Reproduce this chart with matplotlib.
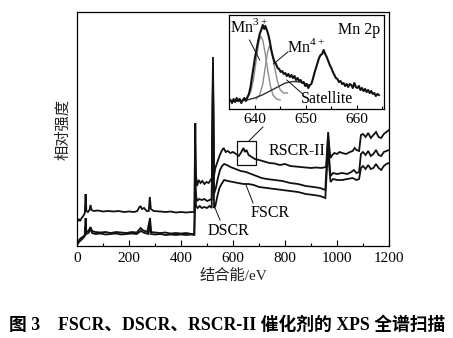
import matplotlib
matplotlib.use("Agg")
import matplotlib.pyplot as plt
from matplotlib.patches import Rectangle
from matplotlib.ticker import MultipleLocator

plt.rcParams['font.family'] = ['Liberation Serif', 'Noto Sans CJK SC']
plt.rcParams['mathtext.fontset'] = 'custom'
plt.rcParams['mathtext.rm'] = 'Liberation Serif'

# ---- survey spectra (binding energy / eV, relative intensity) ----
rscr_e = [0, 6, 12, 18, 24, 30, 33, 36, 42, 48, 52, 56, 65, 80, 100, 120, 140, 160, 180, 200,
          220, 232, 238, 244, 250, 258, 268, 276, 280, 284, 295, 320, 340, 360, 380, 400, 420,
          440, 451, 455, 458, 462, 468, 475, 482, 490, 498, 506, 514, 519, 523, 527, 532, 540,
          548, 556, 564, 572, 580, 590, 600, 612, 622, 630, 640, 646, 652, 660, 672, 684, 700,
          720, 740, 760, 780, 800, 820, 840, 860, 880, 900, 920, 940, 958, 966, 970, 975, 982,
          990, 1000, 1010, 1020, 1035, 1050, 1060, 1068, 1075, 1085, 1092, 1100, 1110, 1120,
          1130, 1140, 1150, 1160, 1170, 1180, 1190, 1200]
rscr_i = [24, 27, 25, 28, 30, 33, 52, 35, 34, 36, 41, 36, 35, 35.5, 34.5, 35, 34.5, 35, 34, 34.5,
          34, 35, 38, 40, 37, 38, 35, 35, 49, 37, 35, 34.5, 34, 34.5, 33.5, 34, 33.5,
          34, 34, 123, 70, 60, 66, 63, 65, 62, 64, 63, 66, 68, 189, 70, 78, 84,
          90, 95, 98, 94, 95, 93, 94, 92, 90, 93, 98, 94, 96, 91, 89, 87, 86,
          84.5, 83, 82.5, 81, 82, 80, 79.5, 79, 78.5, 78, 78.5, 78, 79, 114, 100, 88, 91,
          93, 92, 94, 93, 92, 94, 95, 98, 96, 95, 111, 112, 109, 113,
          108, 111, 114, 109, 108, 112, 114, 116]

fscr_e = [0, 8, 15, 22, 30, 33, 36, 44, 52, 58, 70, 90, 110, 130, 150, 170, 190, 210, 230, 238,
          245, 252, 270, 281, 285, 300, 320, 340, 360, 380, 400, 420, 440, 451, 455, 458, 462,
          470, 480, 490, 500, 510, 518, 523, 527, 534, 542, 550, 558, 566, 576, 590, 610, 630,
          650, 670, 690, 710, 730, 760, 790, 820, 850, 880, 910, 935, 955, 966, 970, 975, 985,
          1000, 1020, 1040, 1055, 1065, 1075, 1085, 1092, 1100, 1110, 1120, 1130, 1140, 1150,
          1160, 1170, 1180, 1190, 1200]
fscr_i = [3, 6, 8, 9, 11, 28, 14, 15, 19, 15, 14, 13.5, 14, 13, 14, 13.5, 13, 14, 13.5, 16,
          18, 16, 14, 28, 14, 13.5, 13, 13.5, 12.5, 13, 12.5, 13, 12, 12, 70, 50, 45,
          47, 46, 47, 45, 46, 47, 180, 52, 58, 68, 76, 80, 82, 81, 79, 77, 75,
          74, 72, 70, 68, 67, 66, 65, 63, 62, 60, 59, 58, 56, 110, 88, 70, 73,
          72, 73, 72, 74, 76, 73, 74, 92, 94, 91, 95, 90, 92, 96,
          91, 90, 94, 95, 96]

dscr_e = [0, 8, 16, 24, 30, 33, 36, 44, 52, 58, 70, 90, 110, 130, 150, 170, 190, 210, 230, 245,
          260, 275, 281, 285, 300, 320, 340, 360, 380, 400, 420, 440, 451, 455, 458, 464, 472,
          480, 490, 500, 510, 518, 523, 527, 532, 540, 548, 556, 566, 580, 600, 620, 640, 660,
          680, 700, 730, 760, 790, 820, 850, 880, 910, 935, 955, 966, 970, 975, 985, 1000, 1020,
          1040, 1060, 1075, 1085, 1092, 1100, 1110, 1120, 1130, 1140, 1150, 1160, 1170, 1180,
          1190, 1200]
dscr_i = [1, 4, 6, 8, 10, 20, 12, 13, 17, 13, 12, 12.5, 11.5, 12, 12.5, 11.5, 12, 12.5, 12, 15,
          13, 12, 22, 12, 11.5, 12, 11, 11.5, 11, 11.5, 11, 11.5, 11, 55, 40, 38, 40,
          38, 39, 38, 40, 38, 170, 38, 40, 50, 58, 62, 66, 65, 64, 63, 62, 62,
          61, 59, 58, 57, 56, 55, 54, 52, 51, 50, 48, 100, 80, 64, 67, 66, 66,
          67, 68, 66, 67, 78, 80, 77, 81, 77, 78, 82, 78, 76, 80,
          82, 83]

# ---- Mn 2p high-resolution spectrum and fitted components ----
mn_e = [635.3, 635.6, 635.9, 636.2, 636.5, 636.8, 637.1, 637.4, 637.7, 638.0, 638.3, 638.6,
        638.9, 639.2, 639.5, 639.8, 640.1, 640.4, 640.7, 641.0, 641.3, 641.6, 641.9, 642.1,
        642.4, 642.7, 643.0, 643.3, 643.6, 643.9, 644.2, 644.5, 644.8, 645.1, 645.4, 645.7,
        646.0, 646.3, 646.6, 646.9, 647.2, 647.5, 647.8, 648.1, 648.4, 648.7, 649.0, 649.3,
        649.6, 649.9, 650.2, 650.5, 650.8, 651.1, 651.4, 651.7, 652.0, 652.3, 652.6, 652.9,
        653.2, 653.5, 653.8, 654.1, 654.4, 654.7, 655.0, 655.3, 655.6, 655.9, 656.2, 656.5,
        656.8, 657.1, 657.4, 657.7, 658.0, 658.3, 658.6, 658.9, 659.2, 659.5, 659.8, 660.1,
        660.4, 660.7, 661.0, 661.3, 661.6, 661.9, 662.2, 662.5, 662.8, 663.1, 663.4, 663.7,
        664.0, 664.3]
mn_i = [9, 6, 10, 7, 11, 8, 10, 6, 9, 11, 8, 12,
        15, 22, 32, 42, 52, 60, 68, 75, 79, 84, 80, 83,
        79, 74, 67, 58, 52, 47, 45, 41, 40, 37, 38, 35,
        36, 33, 35, 32, 34, 31, 33, 29, 31, 28, 29, 26,
        27, 23, 25, 21, 24, 25, 30, 36, 41, 46, 51, 54,
        55, 59, 55, 52, 48, 44, 41, 37, 34, 31, 30, 27,
        28, 25, 26, 23, 25, 22, 25, 24, 21, 26, 22, 21,
        23, 19, 21, 18, 20, 17, 19, 16, 18, 15, 16, 13,
        15, 14]

mn3_e = [637.8, 638.6, 639.3, 639.8, 640.3, 640.8, 641.2, 641.6, 642.1, 642.6, 643.1, 643.6,
         644.3, 645.0]
mn3_i = [9, 11, 18, 30, 48, 66, 73, 69, 55, 38, 23, 14, 10, 9]

mn4_e = [640.3, 641.0, 641.6, 642.1, 642.5, 642.9, 643.3, 643.8, 644.4, 645.0, 645.7, 646.4]
mn4_i = [10, 14, 25, 42, 56, 63, 59, 45, 29, 19, 16, 16]

sat_e = [636.0, 637.0, 638.5, 640.0, 641.5, 643.0, 644.5, 646.0, 647.5, 649.0, 650.0, 650.6]
sat_i = [8, 8, 9, 11, 14, 18, 22, 26, 27.5, 27, 25, 24]

x_ticks = [0, 200, 400, 600, 800, 1000, 1200]
inset_ticks = [640, 650, 660]

W, H = 453, 338
fig = plt.figure(figsize=(W / 100, H / 100), dpi=100)

ax = fig.add_axes([77 / W, 1 - 246 / H, 312 / W, 234 / H])
for e, i in ((dscr_e, dscr_i), (fscr_e, fscr_i), (rscr_e, rscr_i)):
    ax.plot(e, i, color='#111111', lw=1.3, solid_joinstyle='miter')
ax.set_xlim(0, 1200)
ax.set_ylim(0, 234)
ax.set_xticks(x_ticks)
ax.xaxis.set_minor_locator(MultipleLocator(100))
ax.set_yticks([])
ax.tick_params(axis='x', which='major', direction='in', length=4, width=0.8,
               labelsize=11, pad=4)
ax.tick_params(axis='x', which='minor', direction='in', length=2.5, width=0.8)
for s in ax.spines.values():
    s.set_linewidth(0.9)
ax.set_xlabel('结合能/eV', fontsize=11, color='#222222', labelpad=3)
ax.set_ylabel('相对强度', fontsize=11, color='#222222', labelpad=5)

ax.text(846, 95, 'RSCR-II', fontsize=11.5, ha='center', va='center')
ax.text(742, 33, 'FSCR', fontsize=11.5, ha='center', va='center')
ax.text(581, 15, 'DSCR', fontsize=11.5, ha='center', va='center')
ax.plot([677, 650], [43, 61], color='#111111', lw=0.7)
ax.plot([550, 531], [26, 38], color='#111111', lw=0.7)
ax.add_patch(Rectangle((615, 81), 73, 24, fill=False, lw=0.9, ec='#111111'))
ax.plot([661, 715], [105, 119], color='#111111', lw=0.7)

# inset: Mn 2p region
ins = fig.add_axes([229 / W, 1 - 109 / H, 155 / W, 94 / H])
ins.plot(mn3_e, mn3_i, color='#8c8c8c', lw=1.0)
ins.plot(mn4_e, mn4_i, color='#8c8c8c', lw=1.0)
ins.plot(sat_e, sat_i, color='#333333', lw=1.0)
ins.plot(mn_e, mn_i, color='#111111', lw=1.5)
ins.set_xlim(635.0, 665.3)
ins.set_ylim(0, 94)
ins.set_xticks(inset_ticks)
ins.xaxis.set_minor_locator(MultipleLocator(5))
ins.set_yticks([])
ins.tick_params(axis='x', which='major', direction='in', length=3, width=0.8,
                labelsize=11, pad=3)
ins.tick_params(axis='x', which='minor', direction='in', length=2, width=0.8)
for s in ins.spines.values():
    s.set_linewidth(0.9)
ins.text(660.4, 79, 'Mn 2p', fontsize=11.5, ha='center', va='center')
ins.text(635.2, 82, 'Mn$^{3+}$', fontsize=11.5, ha='left', va='center')
ins.text(646.3, 62, 'Mn$^{4+}$', fontsize=11.5, ha='left', va='center')
ins.text(654.1, 10, 'Satellite', fontsize=11.5, ha='center', va='center')
ins.plot([639.0, 641.0], [69, 49], color='#111111', lw=0.7)
ins.plot([646.5, 643.7], [57, 45], color='#111111', lw=0.7)
ins.plot([649.4, 646.3], [15, 29], color='#111111', lw=0.7)

fig.text(227 / W, 1 - 325 / H, '图 3    FSCR、DSCR、RSCR-II 催化剂的 XPS 全谱扫描',
         fontsize=12.8, fontweight='bold', ha='center', va='center')

fig.savefig('out.png', dpi=100)
